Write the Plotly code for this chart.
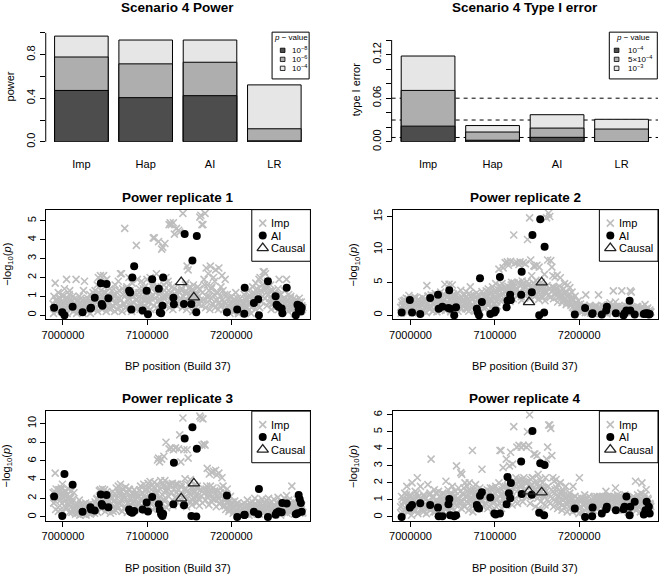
import plotly.graph_objects as go

# ---------------------------------------------------------------- data
methods = ["Imp", "Hap", "AI", "LR"]

# power (cumulative: proportion with p below each threshold)
power_p1e4 = [0.971, 0.935, 0.935, 0.523]
power_p1e6 = [0.779, 0.716, 0.731, 0.120]
power_p1e8 = [0.472, 0.406, 0.424, 0.009]

# type I error (cumulative)
t1e_p1e3 = [0.118, 0.0224, 0.0373, 0.031]
t1e_p5e4 = [0.0707, 0.0135, 0.0189, 0.0176]
t1e_p1e4 = [0.0216, 0.0022, 0.0062, 0.0]
t1e_reference = [0.006, 0.03, 0.06]

power_legend = ["10<sup>\u22128</sup>", "10<sup>\u22126</sup>", "10<sup>\u22124</sup>"]
t1e_legend = ["10<sup>\u22124</sup>", "5\u00d710<sup>\u22124</sup>", "10<sup>\u22123</sup>"]

# imputed SNP positions (kb, Build 37), batch A
imp_pos_kb = [
    6988.3, 6989.4, 6990.8, 6991.9, 6993.2, 6994.5, 6995.6, 6996.9, 6998.1, 6999.4, 7000.6, 7001.8, 7003.1, 7004.3, 7005.6, 7006.8, 7008.1, 7009.3, 7010.6, 7011.8,
    7013.1, 7014.3, 7015.6, 7016.9, 7018.1, 7019.4, 7020.6, 7021.9, 7023.1, 7024.4, 7025.6, 7026.9, 7028.2, 7029.4, 7030.7, 7031.9, 7033.2, 7034.4, 7035.7, 7036.9,
    7038.2, 7039.5, 7040.7, 7042.0, 7043.2, 7044.5, 7045.7, 7047.0, 7048.3, 7049.5, 7050.8, 7052.0, 7053.3, 7054.5, 7055.8, 7057.0, 7058.3, 7059.6, 7060.8, 7062.1,
    7063.3, 7064.6, 7065.8, 7067.1, 7068.3, 7069.6, 7070.9, 7072.1, 7073.4, 7074.6, 7075.9, 7077.1, 7078.4, 7079.7, 7080.9, 7082.2, 7083.4, 7084.7, 7085.9, 7087.2,
    7088.4, 7089.7, 7091.0, 7092.2, 7093.5, 7094.7, 7096.0, 7097.2, 7098.5, 7099.8, 7101.0, 7102.3, 7103.5, 7104.8, 7106.0, 7107.3, 7108.5, 7109.8, 7111.1, 7112.3,
    7113.6, 7114.8, 7116.1, 7117.3, 7118.6, 7119.9, 7121.1, 7122.4, 7123.6, 7124.9, 7126.1, 7127.4, 7128.6, 7129.9, 7131.2, 7132.4, 7133.7, 7134.9, 7136.2, 7137.4,
    7138.7, 7140.0, 7141.2, 7142.5, 7143.7, 7145.0, 7146.2, 7147.5, 7148.7, 7150.0, 7151.3, 7152.5, 7153.8, 7155.0, 7156.3, 7157.5, 7158.8, 7160.1, 7161.3, 7162.6,
    7163.8, 7165.1, 7166.3, 7167.6, 7168.8, 7170.1, 7171.4, 7172.6, 7173.9, 7175.1, 7176.4, 7177.6, 7178.9, 7180.2, 7181.4, 7182.7, 7183.9, 7185.2, 7186.4, 7187.7,
    7188.9, 7190.2, 7191.5, 7192.7, 7194.0, 7195.2, 7196.5, 7197.7, 7199.0, 7200.3, 7201.5, 7202.8, 7204.0, 7205.3, 7206.5, 7207.8, 7209.0, 7210.3, 7211.6, 7212.8,
    7214.1, 7215.3, 7216.6, 7217.8, 7219.1, 7220.4, 7221.6, 7222.9, 7224.1, 7225.4, 7226.6, 7227.9, 7229.1, 7230.4, 7231.7, 7232.9, 7234.2, 7235.4, 7236.7, 7237.9,
    7239.2, 7240.5, 7241.7, 7243.0, 7244.2, 7245.5, 7246.7, 7248.0, 7249.2, 7250.5, 7251.8, 7253.0, 7254.3, 7255.5, 7256.8, 7258.0, 7259.3, 7260.6, 7261.8, 7263.1,
    7264.3, 7265.6, 7266.8, 7268.1, 7269.3, 7270.6, 7271.9, 7273.1, 7274.4, 7275.6, 7276.9, 7278.1, 7279.4, 7280.7, 7281.9, 7283.2, 7284.4, 6997.5, 7007.4, 7047.6,
]
# imputed SNP positions (kb), batch B
imp_pos2_kb = [
    6988.9, 6990.1, 6991.3, 6992.7, 6993.9, 6995.0, 6996.3, 6997.8, 6998.8, 7000.0, 7001.2, 7002.4, 7003.7, 7005.0, 7006.2, 7007.5, 7008.7, 7010.0, 7011.2, 7012.5,
    7013.8, 7015.0, 7016.3, 7017.5, 7018.8, 7020.0, 7021.3, 7022.5, 7023.8, 7025.0, 7026.3, 7027.5, 7028.8, 7030.1, 7031.3, 7032.6, 7033.8, 7035.1, 7036.3, 7037.6,
    7038.8, 7040.1, 7041.3, 7042.6, 7043.9, 7045.1, 7046.4, 7047.7, 7048.9, 7050.2, 7051.4, 7052.7, 7053.9, 7055.2, 7056.4, 7057.7, 7059.0, 7060.2, 7061.5, 7062.7,
    7064.0, 7065.2, 7066.5, 7067.7, 7069.0, 7070.3, 7071.5, 7072.8, 7074.0, 7075.3, 7076.5, 7077.8, 7079.1, 7080.3, 7081.6, 7082.8, 7084.1, 7085.3, 7086.6, 7087.8,
    7089.1, 7090.4, 7091.6, 7092.9, 7094.1, 7095.4, 7096.6, 7097.9, 7099.2, 7100.4, 7101.7, 7102.9, 7104.2, 7105.4, 7106.7, 7107.9, 7109.2, 7110.5, 7111.7, 7113.0,
    7114.2, 7115.5, 7116.7, 7118.0, 7119.3, 7120.5, 7121.8, 7123.0, 7124.3, 7125.5, 7126.8, 7128.0, 7129.3, 7130.6, 7131.8, 7133.1, 7134.3, 7135.6, 7136.8, 7138.1,
    7139.4, 7140.6, 7141.9, 7143.1, 7144.4, 7145.6, 7146.9, 7148.1, 7149.4, 7150.7, 7151.9, 7153.2, 7154.4, 7155.7, 7156.9, 7158.2, 7159.5, 7160.7, 7162.0, 7163.2,
    7164.5, 7165.7, 7167.0, 7168.2, 7169.5, 7170.8, 7172.0, 7173.3, 7174.5, 7175.8, 7177.0, 7178.3, 7179.6, 7180.8, 7182.1, 7183.3, 7184.6, 7185.8, 7187.1, 7188.3,
    7189.6, 7190.9, 7192.1, 7193.4, 7194.6, 7195.9, 7197.1, 7198.4, 7199.7, 7200.9, 7202.2, 7203.4, 7204.7, 7205.9, 7207.2, 7208.4, 7209.7, 7211.0, 7212.2, 7213.5,
    7214.7, 7216.0, 7217.2, 7218.5, 7219.8, 7221.0, 7222.3, 7223.5, 7224.8, 7226.0, 7227.3, 7228.5, 7229.8, 7231.1, 7232.3, 7233.6, 7234.8, 7236.1, 7237.3, 7238.6,
    7239.9, 7241.1, 7242.4, 7243.6, 7244.9, 7246.1, 7247.4, 7248.6, 7249.9, 7251.2, 7252.4, 7253.7, 7254.9, 7256.2, 7257.4, 7258.7, 7260.0, 7261.2, 7262.5, 7263.7,
    7265.0, 7266.2, 7267.5, 7268.7, 7270.0, 7271.3, 7272.5, 7273.8, 7275.0, 7276.3, 7277.5, 7278.8, 7280.1, 7281.3, 7282.6, 7283.8, 7285.0, 7002.9, 7050.0, 7120.0,
]

# -log10(p) of imputed SNPs (batch A), one list per replicate
imp_rep1 = [
    0.6, 1.0, 1.7, 0.3, 0.8, 1.2, 0.5, 0.9, 0.2, 1.1, 0.7, 1.4, 0.4, 1.9, 0.9, 0.6, 1.3, 0.3, 0.8, 1.0,
    0.5, 0.9, 1.9, 0.7, 0.3, 1.0, 0.6, 0.2, 0.8, 1.3, 1.8, 0.4, 0.7, 0.9, 0.3, 1.1, 0.6, 0.5, 1.2, 0.8,
    1.3, 0.9, 1.6, 2.0, 1.2, 2.1, 1.7, 1.0, 2.1, 1.5, 0.8, 1.9, 1.1, 0.6, 1.4, 0.9, 1.3, 0.5, 1.0, 1.6,
    0.7, 1.2, 1.8, 0.9, 2.2, 2.2, 1.4, 0.6, 4.6, 1.1, 1.5, 0.8, 2.0, 1.3, 0.5, 1.7, 1.0, 1.2, 0.4, 3.7,
    1.9, 0.9, 1.4, 0.6, 1.8, 1.2, 0.8, 1.5, 1.0, 1.9, 0.7, 1.3, 2.0, 0.9, 1.6, 4.1, 4.1, 1.2, 2.2, 1.5,
    3.9, 1.4, 0.8, 3.5, 3.6, 1.6, 3.8, 2.0, 1.2, 1.8, 4.8, 4.9, 4.8, 1.5, 4.9, 4.3, 1.1, 4.6, 1.3, 4.5,
    4.4, 0.9, 1.4, 5.4, 0.7, 1.2, 1.7, 2.6, 2.4, 1.0, 0.5, 1.3, 0.8, 1.6, 0.4, 1.1, 0.9, 1.5, 0.6, 5.2,
    5.3, 4.8, 4.8, 1.9, 5.4, 2.5, 1.6, 2.2, 1.0, 2.6, 1.4, 0.6, 2.0, 1.8, 2.4, 0.8, 1.2, 2.5, 0.5, 1.5,
    2.1, 1.3, 0.7, 1.9, 0.4, 1.1, 0.9, 0.3, 0.6, 1.0, 0.2, 0.8, 0.5, 1.2, 0.3, 0.7, 0.1, 0.9, 0.4, 0.6,
    0.3, 1.1, 0.6, 0.9, 0.2, 1.3, 0.7, 1.0, 0.4, 1.5, 1.2, 0.8, 1.7, 1.4, 1.0, 1.9, 2.0, 1.3, 1.6, 2.3,
    2.3, 2.2, 1.5, 1.8, 1.1, 0.9, 1.6, 0.6, 1.3, 0.8, 1.2, 0.5, 1.0, 1.4, 1.9, 0.7, 1.1, 0.4, 0.9, 1.3,
    0.6, 1.9, 0.8, 1.1, 0.4, 1.0, 0.7, 0.3, 0.9, 0.5, 0.8, 0.2, 0.6, 0.9, 0.4, 0.7, 0.3, 0.5, 0.8, 1.2,
]
imp_rep2 = [
    1.2, 2.0, 0.5, 1.6, 2.3, 0.8, 1.9, 2.5, 3.0, 1.4, 0.6, 2.2, 1.0, 1.7, 2.6, 0.4, 1.8, 2.4, 1.1, 2.0,
    1.5, 2.7, 0.7, 2.2, 1.3, 4.5, 2.9, 1.0, 2.4, 3.1, 1.8, 0.6, 2.6, 3.3, 1.4, 2.8, 2.1, 0.9, 3.5, 2.5,
    2.0, 3.2, 4.7, 1.5, 2.7, 3.0, 4.7, 1.2, 2.4, 4.6, 3.2, 0.8, 2.9, 2.1, 3.4, 1.6, 2.6, 3.8, 1.0, 2.3,
    3.0, 1.8, 3.6, 2.4, 1.1, 3.3, 4.3, 2.7, 1.5, 3.1, 2.0, 0.7, 3.4, 2.5, 1.3, 2.9, 1.9, 3.6, 2.2, 1.0,
    2.8, 3.7, 1.6, 4.0, 2.3, 3.2, 1.2, 4.3, 2.7, 3.5, 4.8, 2.0, 3.9, 7.0, 4.5, 3.0, 4.8, 7.2, 2.5, 8.0,
    4.2, 8.1, 7.6, 3.5, 8.2, 5.0, 4.6, 12.2, 7.9, 3.8, 8.0, 4.9, 7.7, 8.1, 2.8, 5.2, 8.0, 4.3, 7.8, 3.6,
    11.5, 4.7, 14.8, 8.4, 6.0, 3.9, 7.5, 7.4, 5.3, 7.6, 4.1, 7.3, 3.2, 5.0, 2.6, 4.4, 6.2, 3.7, 14.8, 8.4,
    15.5, 15.0, 8.3, 7.3, 6.0, 4.2, 5.8, 3.5, 6.1, 2.8, 4.4, 5.7, 3.1, 2.2, 4.0, 4.8, 3.3, 1.8, 4.6, 2.6,
    4.2, 1.5, 3.5, 2.4, 1.0, 2.9, 1.8, 0.7, 2.2, 1.3, 1.7, 0.5, 1.1, 1.4, 0.8, 3.1, 1.2, 0.4, 0.9, 1.5,
    0.6, 1.2, 0.3, 1.0, 0.8, 1.4, 0.5, 3.1, 1.1, 0.7, 1.5, 0.4, 1.2, 0.9, 1.3, 0.2, 1.0, 1.6, 1.9, 0.6,
    1.1, 3.7, 0.8, 2.0, 1.3, 0.5, 1.4, 1.0, 0.6, 3.7, 1.2, 0.9, 1.5, 0.4, 1.1, 0.7, 1.3, 3.7, 3.5, 0.8,
    1.2, 0.5, 1.0, 0.3, 1.3, 0.8, 0.6, 1.1, 0.4, 0.9, 0.2, 1.6, 0.7, 1.0, 0.3, 0.6, 0.4, 2.4, 1.9, 1.7,
]
imp_rep3 = [
    2.6, 1.5, 4.7, 3.0, 2.2, 0.6, 2.9, 1.8, 3.1, 3.5, 2.4, 1.2, 2.8, 0.9, 2.0, 3.0, 1.6, 2.7, 0.5, 1.9,
    2.6, 1.2, 0.7, 1.4, 0.4, 1.8, 1.0, 0.6, 1.3, 0.3, 0.9, 1.5, 0.5, 1.1, 0.8, 1.4, 0.4, 1.2, 0.7, 1.0,
    1.6, 0.9, 2.0, 1.3, 2.8, 2.9, 1.5, 3.0, 2.2, 2.9, 1.1, 2.7, 1.8, 0.8, 2.4, 1.4, 2.0, 0.6, 1.7, 2.5,
    3.1, 1.2, 3.3, 2.6, 3.5, 1.8, 3.0, 2.2, 0.9, 3.2, 2.7, 1.5, 3.0, 2.0, 0.7, 2.5, 1.4, 2.9, 1.9, 1.1,
    2.4, 1.6, 2.9, 3.3, 1.2, 2.6, 3.5, 2.0, 3.0, 1.4, 3.6, 2.3, 3.8, 1.8, 3.4, 2.7, 3.7, 1.0, 2.5, 6.1,
    6.3, 5.9, 3.9, 6.2, 3.6, 6.5, 3.9, 8.0, 2.8, 3.5, 7.3, 3.5, 7.4, 3.6, 7.2, 3.4, 7.4, 2.6, 3.5, 7.3,
    8.8, 5.9, 3.5, 10.6, 7.2, 4.1, 3.0, 7.2, 6.3, 2.5, 4.0, 3.2, 1.8, 2.7, 3.4, 2.2, 1.5, 3.0, 2.0, 10.8,
    10.6, 7.7, 10.5, 7.8, 7.7, 3.0, 5.2, 2.4, 4.6, 3.3, 4.8, 1.9, 4.9, 2.8, 5.0, 4.5, 2.2, 4.7, 1.5, 3.1,
    4.2, 3.3, 2.6, 1.2, 2.0, 3.0, 1.6, 0.8, 2.2, 1.4, 1.0, 0.5, 1.7, 1.2, 0.7, 1.5, 0.3, 1.1, 0.6, 1.3,
    0.8, 1.5, 0.4, 1.2, 1.8, 0.6, 1.0, 1.4, 0.3, 1.6, 0.9, 2.0, 1.2, 0.5, 1.7, 1.0, 1.4, 0.7, 1.9, 1.1,
    1.5, 0.6, 1.8, 1.0, 2.0, 1.3, 0.4, 1.6, 0.9, 1.9, 1.2, 0.7, 1.5, 2.1, 1.0, 0.5, 1.7, 1.3, 0.8, 2.0,
    1.4, 2.3, 0.7, 1.8, 1.1, 1.5, 3.3, 0.9, 1.6, 1.2, 0.5, 1.9, 1.0, 0.6, 1.3, 0.8, 0.4, 2.9, 2.1, 2.6,
]
imp_rep4 = [
    0.6, 1.2, 0.3, 0.9, 1.4, 0.5, 1.8, 1.0, 0.4, 1.3, 0.7, 2.0, 1.1, 0.5, 1.5, 0.8, 2.3, 1.2, 0.6, 1.8,
    1.0, 0.4, 1.3, 0.7, 1.1, 0.5, 1.9, 0.9, 1.4, 3.4, 0.6, 1.2, 1.6, 0.3, 1.0, 0.8, 1.5, 0.5, 1.2, 0.9,
    1.4, 0.7, 1.1, 2.1, 0.5, 1.6, 1.0, 1.3, 0.6, 1.8, 1.2, 0.8, 1.5, 3.0, 1.1, 1.7, 0.9, 2.6, 2.5, 1.4,
    1.7, 2.0, 1.2, 1.8, 0.8, 2.0, 1.5, 1.1, 3.9, 1.6, 0.7, 1.9, 1.3, 0.9, 1.4, 1.7, 1.0, 2.8, 0.6, 1.5,
    1.2, 0.8, 1.6, 1.3, 0.6, 1.7, 1.1, 1.7, 0.9, 1.4, 1.8, 1.0, 1.5, 2.0, 3.9, 3.9, 1.6, 2.9, 1.2, 1.8,
    3.4, 2.2, 1.5, 3.0, 3.8, 2.0, 3.1, 5.3, 1.8, 2.3, 4.1, 2.1, 4.2, 1.9, 4.1, 2.2, 4.2, 1.6, 2.0, 4.1,
    5.0, 4.2, 6.0, 2.2, 1.9, 2.3, 3.7, 3.7, 2.1, 3.6, 2.5, 1.8, 2.2, 1.5, 2.0, 1.3, 1.7, 2.3, 3.4, 4.1,
    5.4, 5.4, 5.2, 3.6, 2.3, 2.1, 1.6, 2.2, 1.2, 1.9, 0.9, 2.0, 1.4, 0.7, 1.5, 1.1, 1.8, 0.8, 1.3, 1.0,
    1.4, 0.7, 1.1, 1.8, 0.5, 1.2, 0.9, 0.4, 1.0, 2.3, 0.6, 1.1, 0.3, 0.8, 1.3, 1.0, 0.5, 0.9, 1.2, 0.4,
    0.7, 1.0, 0.4, 1.2, 0.8, 0.5, 1.1, 0.9, 1.2, 0.6, 1.1, 1.0, 1.2, 0.7, 1.5, 1.1, 0.9, 1.2, 0.5, 1.0,
    1.1, 0.6, 1.2, 1.7, 0.9, 1.3, 0.5, 1.0, 0.8, 1.2, 0.4, 1.0, 1.3, 0.7, 0.9, 0.3, 1.1, 0.6, 1.0, 0.8,
    1.2, 0.5, 2.1, 0.9, 1.3, 0.6, 1.0, 1.4, 2.0, 0.7, 1.1, 1.3, 1.6, 0.8, 1.0, 0.4, 0.7, 0.9, 1.1, 0.6,
]

# -log10(p) of imputed SNPs (batch B), one list per replicate
imp2_rep1 = [
    0.1, 0.5, 0.8, 0.2, 0.6, 0.9, 0.3, 0.7, 0.4, 1.0, 0.2, 0.6, 0.8, 0.1, 0.5, 1.1, 0.3, 0.7, 0.4, 0.2,
    0.3, 0.6, 0.1, 0.8, 0.5, 0.2, 0.9, 0.4, 0.1, 0.6, 0.3, 0.8, 0.2, 0.5, 0.7, 0.1, 0.4, 0.9, 0.3, 0.6,
    0.4, 1.1, 0.2, 0.8, 0.5, 1.3, 0.3, 0.9, 0.6, 1.2, 0.2, 0.7, 0.4, 1.0, 0.3, 0.8, 0.5, 1.1, 0.2, 0.6,
    0.9, 0.3, 1.3, 0.5, 0.8, 0.2, 1.1, 0.6, 0.4, 1.4, 0.3, 0.9, 0.5, 1.2, 0.2, 0.7, 1.0, 0.4, 0.8, 0.3,
    0.5, 1.2, 0.3, 0.9, 0.6, 1.4, 0.2, 0.8, 1.1, 0.4, 1.3, 0.7, 0.3, 1.0, 1.5, 0.5, 0.9, 1.2, 0.4, 0.8,
    1.1, 0.6, 1.5, 0.3, 0.9, 1.3, 0.5, 1.0, 0.7, 1.6, 0.4, 1.2, 0.8, 0.3, 1.4, 0.6, 1.0, 0.5, 1.3, 0.8,
    0.6, 1.3, 0.4, 1.0, 0.8, 1.6, 0.3, 1.2, 0.7, 1.5, 0.5, 1.0, 0.2, 1.3, 0.9, 0.4, 1.1, 0.6, 1.4, 0.8,
    0.5, 1.2, 0.8, 1.6, 0.4, 1.0, 0.7, 1.3, 0.3, 0.9, 1.5, 0.6, 1.1, 0.4, 0.8, 1.2, 0.3, 0.7, 1.0, 0.5,
    0.8, 0.3, 1.1, 0.6, 0.2, 0.9, 0.5, 0.1, 0.7, 0.4, 0.8, 0.2, 0.6, 0.3, 0.9, 0.1, 0.5, 0.7, 0.2, 0.4,
    0.6, 0.2, 0.8, 0.4, 1.0, 0.3, 0.7, 0.1, 0.9, 0.5, 1.1, 0.3, 0.8, 0.6, 1.2, 0.4, 1.3, 0.7, 1.0, 1.4,
    0.9, 1.4, 0.5, 1.1, 0.7, 1.3, 0.3, 0.9, 0.6, 1.2, 0.4, 0.8, 1.0, 0.3, 0.7, 1.1, 0.5, 0.2, 0.8, 0.6,
    0.4, 0.8, 0.2, 0.6, 0.9, 0.3, 0.7, 0.5, 0.1, 0.8, 0.4, 0.6, 0.3, 0.7, 0.2, 0.5, 0.4, 0.3, 0.7, 1.0,
]
imp2_rep2 = [
    0.3, 1.5, 2.2, 0.8, 1.8, 2.6, 0.5, 1.3, 2.0, 1.0, 2.4, 0.4, 1.6, 2.8, 0.9, 1.9, 0.6, 2.3, 1.2, 1.7,
    0.7, 2.0, 1.1, 2.5, 0.4, 1.6, 2.9, 0.9, 1.4, 2.2, 0.6, 1.8, 2.7, 1.2, 0.5, 2.1, 1.5, 2.6, 0.8, 1.9,
    1.3, 2.5, 0.7, 1.9, 2.8, 1.1, 2.3, 0.5, 1.6, 2.9, 1.0, 2.2, 1.4, 2.6, 0.6, 1.8, 2.4, 0.9, 2.0, 1.5,
    2.3, 1.0, 2.8, 1.6, 0.6, 2.1, 3.0, 1.3, 2.5, 0.8, 1.9, 2.7, 1.1, 3.1, 1.7, 0.5, 2.4, 1.4, 2.9, 2.0,
    1.2, 3.0, 2.1, 1.6, 3.4, 2.5, 1.0, 3.1, 1.8, 2.7, 3.6, 1.4, 2.9, 3.8, 2.2, 4.0, 3.3, 2.6, 4.2, 3.5,
    2.7, 4.4, 3.2, 2.1, 4.6, 3.8, 2.5, 4.9, 3.4, 4.1, 2.9, 5.0, 3.6, 4.5, 2.3, 4.8, 3.9, 3.0, 4.3, 5.1,
    3.3, 4.7, 2.6, 4.0, 3.5, 4.9, 2.8, 4.2, 3.1, 4.6, 2.4, 3.8, 4.4, 2.9, 3.6, 4.1, 2.2, 3.4, 4.5, 3.0,
    4.0, 2.7, 3.6, 4.3, 2.5, 3.9, 3.2, 4.1, 2.0, 3.4, 2.8, 3.7, 1.9, 3.0, 2.4, 3.5, 1.6, 2.9, 2.2, 3.2,
    1.8, 2.6, 1.2, 2.3, 0.9, 1.9, 1.4, 0.7, 1.6, 1.1, 0.5, 1.3, 0.8, 1.5, 0.4, 1.0, 1.2, 0.6, 0.9, 0.3,
    1.1, 0.5, 0.8, 1.3, 0.3, 0.9, 0.6, 1.2, 0.2, 1.0, 0.7, 1.4, 0.4, 0.8, 1.1, 0.5, 1.3, 0.6, 0.9, 1.2,
    0.5, 1.0, 0.7, 1.3, 0.3, 0.9, 0.6, 1.1, 0.2, 0.8, 1.2, 0.4, 0.9, 0.6, 1.3, 0.3, 0.7, 1.0, 0.5, 1.1,
    0.8, 0.4, 1.2, 0.6, 0.9, 0.2, 1.0, 0.5, 1.3, 0.7, 0.3, 0.9, 0.6, 1.1, 0.4, 0.8, 0.5, 2.5, 2.8, 4.2,
]
imp2_rep3 = [
    1.5, 2.7, 0.8, 2.3, 1.9, 2.9, 1.2, 2.5, 0.6, 2.1, 1.7, 2.8, 1.0, 2.4, 1.4, 0.5, 2.0, 1.1, 1.6, 0.7,
    0.9, 0.3, 1.2, 0.6, 1.0, 0.2, 1.4, 0.8, 0.4, 1.1, 0.7, 0.2, 1.3, 0.5, 0.9, 0.3, 1.0, 0.6, 1.2, 0.4,
    0.8, 1.9, 0.5, 1.4, 2.3, 0.9, 2.6, 1.2, 2.0, 0.6, 1.7, 2.4, 1.0, 2.1, 0.4, 1.5, 2.7, 1.1, 1.8, 0.7,
    2.0, 0.9, 2.5, 1.4, 2.8, 0.6, 1.9, 2.3, 1.1, 2.6, 0.5, 1.6, 2.9, 1.2, 2.2, 0.8, 1.7, 2.4, 1.0, 2.1,
    1.3, 2.2, 0.7, 1.9, 2.6, 1.0, 2.3, 1.6, 2.9, 0.9, 2.0, 3.1, 1.4, 2.5, 0.8, 3.2, 1.8, 2.7, 1.1, 3.4,
    2.0, 3.0, 1.3, 2.4, 3.3, 1.7, 2.8, 1.0, 3.1, 2.2, 1.5, 3.4, 2.6, 1.2, 3.0, 2.1, 3.5, 1.6, 2.9, 2.4,
    1.9, 3.2, 2.5, 1.4, 3.0, 2.2, 1.1, 2.8, 3.4, 1.7, 2.4, 1.3, 3.1, 2.0, 2.7, 1.6, 3.3, 2.3, 1.2, 2.9,
    2.2, 1.5, 3.0, 2.6, 1.8, 3.3, 2.1, 1.3, 2.9, 2.4, 1.6, 3.1, 1.9, 2.5, 1.1, 2.8, 2.0, 1.4, 2.6, 1.7,
    2.3, 1.2, 1.8, 0.8, 1.5, 2.0, 0.6, 1.3, 0.9, 1.6, 0.4, 1.1, 0.7, 1.4, 0.3, 1.0, 0.6, 1.2, 0.2, 0.9,
    0.5, 1.1, 0.3, 0.8, 1.3, 0.2, 0.9, 0.6, 1.2, 0.4, 1.0, 1.4, 0.5, 0.8, 1.1, 0.3, 1.5, 0.7, 1.2, 0.9,
    0.6, 1.3, 0.9, 0.3, 1.1, 1.5, 0.7, 1.0, 0.4, 1.2, 0.8, 1.6, 0.5, 0.9, 1.3, 0.2, 1.0, 0.6, 1.4, 0.8,
    1.1, 0.4, 0.8, 1.3, 0.5, 1.0, 0.7, 1.2, 0.3, 0.9, 1.4, 0.6, 1.0, 0.4, 0.8, 1.2, 0.5, 2.2, 1.3, 1.9,
]
imp2_rep4 = [
    0.2, 0.7, 1.1, 0.4, 0.9, 1.3, 0.3, 0.8, 0.5, 1.2, 0.1, 0.6, 1.0, 0.4, 0.8, 1.4, 0.2, 0.7, 1.1, 0.5,
    0.8, 0.3, 1.2, 0.6, 0.2, 0.9, 0.5, 1.3, 0.4, 0.7, 1.1, 0.3, 0.8, 1.4, 0.5, 0.2, 0.9, 1.2, 0.6, 0.4,
    0.9, 0.5, 1.3, 0.7, 1.1, 0.3, 0.8, 1.4, 0.6, 1.0, 0.4, 1.2, 0.7, 0.2, 1.1, 0.8, 1.5, 0.5, 0.9, 1.3,
    0.6, 1.2, 0.9, 1.5, 0.4, 1.1, 0.7, 1.4, 0.3, 1.0, 1.3, 0.6, 1.6, 0.8, 0.5, 1.2, 0.9, 1.4, 0.6, 1.1,
    0.8, 1.3, 0.5, 1.0, 1.5, 0.7, 1.2, 0.4, 0.9, 1.4, 0.6, 1.1, 1.6, 0.8, 1.3, 0.5, 1.8, 1.0, 1.4, 0.7,
    1.2, 1.8, 0.9, 2.0, 1.4, 0.7, 1.7, 2.1, 1.1, 1.9, 0.8, 1.6, 2.2, 1.3, 1.9, 0.9, 2.3, 1.5, 1.2, 2.0,
    1.4, 2.1, 0.8, 1.8, 2.3, 1.2, 1.6, 0.6, 1.9, 1.1, 0.5, 1.4, 0.9, 1.7, 0.4, 1.2, 0.7, 1.5, 1.0, 1.8,
    1.3, 0.8, 1.6, 1.1, 0.6, 1.4, 0.9, 1.7, 0.5, 1.2, 0.8, 1.5, 0.4, 1.0, 1.3, 0.6, 1.1, 0.3, 0.9, 1.2,
    0.5, 1.0, 0.3, 0.8, 1.2, 0.4, 0.7, 1.1, 0.2, 0.9, 0.6, 1.0, 0.3, 0.7, 1.1, 0.5, 0.8, 0.2, 0.6, 0.9,
    0.4, 0.8, 1.1, 0.6, 0.9, 1.2, 0.5, 1.0, 0.7, 1.1, 1.2, 0.8, 1.0, 1.1, 0.6, 1.2, 0.9, 1.1, 0.7, 1.2,
    1.0, 1.2, 0.7, 1.1, 0.5, 0.9, 1.2, 0.6, 1.0, 0.8, 1.1, 0.4, 0.9, 1.2, 0.6, 1.0, 0.3, 0.8, 1.1, 0.5,
    0.7, 1.1, 0.4, 0.9, 0.6, 1.2, 0.3, 0.8, 1.0, 0.5, 0.9, 0.2, 0.7, 1.1, 0.4, 0.8, 0.6, 0.4, 0.9, 1.5,
]

# genotyped (AI) SNP positions (kb) and -log10(p) per replicate
ai_pos_kb = [
    6989.5, 6999.2, 7001.8, 7011.5, 7023.3, 7032.6, 7033.4, 7037.8, 7045.0, 7046.0, 7047.0, 7051.8, 7054.0,
    7078.6, 7079.8, 7081.2, 7082.4, 7084.6, 7094.6, 7099.4, 7101.0, 7106.0, 7113.9, 7115.0, 7116.6, 7118.2,
    7119.0, 7131.2, 7131.8, 7143.8, 7144.6, 7152.6, 7153.8, 7158.4, 7159.0, 7194.8, 7207.0, 7215.4, 7215.9,
    7226.8, 7232.0, 7232.8, 7243.5, 7252.6, 7253.8, 7256.0, 7259.8, 7260.6, 7265.8, 7276.6, 7278.6, 7280.0,
    7281.2, 7282.6, 7283.6,
]
ai_rep1 = [0.4, 0.15, 0.0, 0.45, 0.15, 0.35, 0.4, 0.92, 1.7, 0.6, 0.5, 1.65, 0.9, 1.3, 1.2, 0.3, 2.0, 2.6,
           0.25, 1.3, 0.05, 1.9, 1.4, 0.15, 0.1, 0.5, 2.0, 0.92, 0.58, 0.6, 4.3, 0.6, 2.9, 0.15, 4.2, 0.15,
           0.3, 0.08, 1.45, 0.65, 0.85, 0.0, 1.8, 1.0, 0.55, 0.45, 0.35, 0.1, 1.45, 0.0, 0.55, 0.3, 0.5, 0.2, 0.4]
ai_rep2 = [0.4, 2.3, 0.4, 0.2, 2.6, 3.1, 1.0, 1.3, 1.1, 3.8, 1.0, 0.0, 1.2, 1.0, 0.4, 0.0, 5.6, 2.0, 0.2,
           0.4, 0.7, 5.8, 1.2, 2.2, 2.3, 3.1, 2.3, 3.1, 6.6, 3.5, 12.2, 0.0, 14.6, 0.4, 10.4, 0.1, 1.1, 0.2,
           0.3, 0.1, 0.7, 1.3, 0.3, 0.0, 0.3, 0.7, 2.2, 0.7, 0.1, 0.2, 0.3, 0.2, 0.3, 0.1, 0.2]
ai_rep3 = [2.2, 0.1, 4.6, 3.45, 0.55, 1.05, 0.8, 0.7, 2.4, 1.4, 1.2, 2.35, 1.05, 0.8, 0.6, 0.5, 0.45, 0.65,
           0.8, 1.55, 0.6, 2.15, 1.35, 0.75, 0.3, 0.1, 0.35, 1.35, 5.8, 1.25, 8.4, 0.1, 9.6, 0.05, 7.3, 2.3,
           0.0, 0.2, 0.25, 0.55, 0.3, 3.0, 0.0, 0.25, 0.45, 0.6, 0.5, 1.5, 1.45, 0.3, 0.4, 2.35, 1.9, 1.5, 0.55]
ai_rep4 = [0.0, 0.55, 0.7, 0.8, 0.7, 0.55, 0.05, 0.05, 0.75, 1.05, 0.1, 0.05, 0.1, 0.7, 0.55, 0.5, 1.25,
           1.45, 1.15, 0.2, 0.15, 0.2, 0.75, 2.35, 1.4, 1.1, 2.0, 3.25, 1.35, 1.3, 5.05, 0.25, 3.15, 0.1,
           3.05, 0.5, 0.0, 0.05, 0.55, 0.2, 0.45, 0.6, 0.4, 0.45, 0.6, 1.2, 0.1, 0.6, 0.9, 0.15, 0.4, 0.9,
           0.25, 0.6, 0.2]

# causal variants (kb) and -log10(p) per replicate
causal_pos_kb = [7140.5, 7155.5]
causal_rep1 = [1.75, 0.95]
causal_rep2 = [2.0, 5.0]
causal_rep3 = [2.0, 3.6]
causal_rep4 = [1.5, 1.45]

bp_ticks = [7000000, 7100000, 7200000]
bp_tick_labels = ["7000000", "7100000", "7200000"]

# ---------------------------------------------------------------- style / layout
W, H = 659, 582
FONT = "Liberation Sans, Arial, Helvetica, sans-serif"
LIGHT, MID, DARK = "#E6E6E6", "#AEAEAE", "#4D4D4D"
IMP_COL = "#BEBEBE"


def px(x):
    return x / W


def py(y):
    return 1 - y / H


def span(p0, p1, pa, va, pb, vb):
    s = (vb - va) / (pb - pa)
    return [va + (p0 - pa) * s, va + (p1 - pa) * s]


fig = go.Figure()

for vals, col in ((power_p1e4, LIGHT), (power_p1e6, MID), (power_p1e8, DARK)):
    fig.add_bar(x=methods, y=vals, width=0.833, xaxis="x", yaxis="y", showlegend=False,
                marker=dict(color=col, line=dict(color="black", width=1)), hoverinfo="skip")
for vals, col in ((t1e_p1e3, LIGHT), (t1e_p5e4, MID), (t1e_p1e4, DARK)):
    fig.add_bar(x=methods, y=vals, width=0.833, xaxis="x2", yaxis="y2", showlegend=False,
                marker=dict(color=col, line=dict(color="black", width=1)), hoverinfo="skip")

tick_font = dict(family=FONT, size=11, color="black")
layout = dict(
    width=W, height=H, margin=dict(l=0, r=0, t=0, b=0),
    paper_bgcolor="white", plot_bgcolor="rgba(0,0,0,0)",
    barmode="overlay", showlegend=False, font=dict(family=FONT, color="black"),
)
layout["xaxis"] = dict(domain=[px(42), px(307.7)], anchor="y", type="category",
                       range=[-0.554, 3.552], showline=False, showgrid=False, zeroline=False,
                       ticks="outside", ticklen=12, tickcolor="rgba(0,0,0,0)", tickfont=tick_font)
layout["yaxis"] = dict(domain=[py(143.3), py(28)], anchor="x", range=[0, (143.3 - 28) / 110.8],
                       tickvals=[0, 0.4, 0.8], ticktext=["0.0", "0.4", "0.8"],
                       minor=dict(tickvals=[0.2, 0.6, 1.0], ticks="outside", ticklen=5, tickcolor="black"),
                       ticks="outside", ticklen=5, tickcolor="black", tickangle=-90,
                       showline=False, showgrid=False, zeroline=False, tickfont=tick_font)
layout["xaxis2"] = dict(domain=[px(390), px(658)], anchor="y2", type="category",
                        range=[-0.565, 3.565], showline=False, showgrid=False, zeroline=False,
                        ticks="outside", ticklen=12, tickcolor="rgba(0,0,0,0)", tickfont=tick_font)
layout["yaxis2"] = dict(domain=[py(143.3), py(36)], anchor="x2", range=[0, (143.3 - 36) / 740],
                        tickvals=[0, 0.06, 0.12], ticktext=["0.00", "0.06", "0.12"],
                        minor=dict(tickvals=[0.02, 0.04, 0.08, 0.10, 0.14], ticks="outside", ticklen=5,
                                   tickcolor="black"),
                        ticks="outside", ticklen=5, tickcolor="black", tickangle=-90,
                        showline=False, showgrid=False, zeroline=False, tickfont=tick_font)

shapes = [
    dict(type="line", xref="x domain", yref="y", x0=0, x1=0, y0=0, y1=1.0,
         line=dict(color="black", width=1)),
    dict(type="line", xref="x2 domain", yref="y2", x0=0, x1=0, y0=0, y1=0.14,
         line=dict(color="black", width=1)),
]
for ref in t1e_reference:
    shapes.append(dict(type="line", xref="x2 domain", yref="y2", x0=0, x1=1, y0=ref, y1=ref,
                       layer="below", line=dict(color="black", width=1, dash="4px,4px")))

annotations = []


def ann(text, x, y, size=11, xanchor="center", angle=0):
    annotations.append(dict(text=text, x=px(x), y=py(y), xref="paper", yref="paper",
                            xanchor=xanchor, yanchor="middle", showarrow=False, textangle=angle,
                            font=dict(family=FONT, size=size, color="black")))


ann("<b>Scenario 4 Power</b>", 175, 7, size=13.5)
ann("<b>Scenario 4 Type I error</b>", 524, 7, size=13.5)
ann("power", 6, 87, angle=-90)
ann("type I error", 355, 90, angle=-90)

# bar legends
bar_legends = [
    dict(box=(269.7, 31.7, 307, 79.3), title_x=288.5, sq_x=(278, 282.7), text_x=287.5, labels=power_legend),
    dict(box=(609, 31.7, 657.3, 79.3), title_x=633.3, sq_x=(614, 618.7), text_x=625.5, labels=t1e_legend),
]
rows = [50.2, 59.4, 68.5]
for lg in bar_legends:
    x0, y0, x1, y1 = lg["box"]
    shapes.append(dict(type="rect", xref="paper", yref="paper", x0=px(x0), x1=px(x1), y0=py(y0), y1=py(y1),
                       line=dict(color="black", width=1), fillcolor="white", layer="above"))
    ann("<i>p</i> \u2212 value", lg["title_x"], 37, size=8)
    for ry, col, lab in zip(rows, (DARK, MID, LIGHT), lg["labels"]):
        shapes.append(dict(type="rect", xref="paper", yref="paper", x0=px(lg["sq_x"][0]), x1=px(lg["sq_x"][1]),
                           y0=py(ry + 2.2), y1=py(ry - 2.2), fillcolor=col,
                           line=dict(color="black", width=0.8)))
        ann(lab, lg["text_x"], ry, size=8, xanchor="left")

# scatter panels
panels = [
    dict(title="Power replicate 1", imp=imp_rep1, imp2=imp2_rep1, ai=ai_rep1, causal=causal_rep1,
         yt=[0, 1, 2, 3, 4, 5], box=(42.3, 212.3, 308.3, 324.0), xa=(59.3, 228.7), ya=(319.7, 0, 223.7, 5)),
    dict(title="Power replicate 2", imp=imp_rep2, imp2=imp2_rep2, ai=ai_rep2, causal=causal_rep2,
         yt=[0, 5, 10, 15], box=(391, 212.3, 658, 324.0), xa=(409, 578.7), ya=(319.7, 0, 219.3, 15)),
    dict(title="Power replicate 3", imp=imp_rep3, imp2=imp2_rep3, ai=ai_rep3, causal=causal_rep3,
         yt=[0, 2, 4, 6, 8, 10], box=(42.3, 417.3, 308.3, 529.3), xa=(59.3, 228.7), ya=(525, 0, 430, 10)),
    dict(title="Power replicate 4", imp=imp_rep4, imp2=imp2_rep4, ai=ai_rep4, causal=causal_rep4,
         yt=[0, 1, 2, 3, 4, 5, 6], box=(391, 417.3, 658, 529.3), xa=(409, 578.7), ya=(525, 0, 421, 6)),
]

imp_bp = [p * 1000 for p in imp_pos_kb]
imp2_bp = [p * 1000 for p in imp_pos2_kb]
ai_bp = [p * 1000 for p in ai_pos_kb]
causal_bp = [p * 1000 for p in causal_pos_kb]

imp_marker = dict(symbol="x-thin-open", size=7, color=IMP_COL, line=dict(width=1.6, color=IMP_COL))
ai_marker = dict(symbol="circle", size=8, color="black", line=dict(width=0))
causal_marker = dict(symbol="triangle-up-open", size=10, color="#222222", line=dict(width=1.3, color="#222222"))

legend_boxes = []
for i, pn in enumerate(panels):
    k = i + 3
    xs, ys = f"x{k}", f"y{k}"
    bx0, by0, bx1, by1 = pn["box"]
    n1 = min(len(imp2_bp), len(pn["imp2"]))
    n = min(len(imp_bp), len(pn["imp"]))
    fig.add_scatter(x=imp2_bp[:n1] + imp_bp[:n], y=pn["imp2"][:n1] + pn["imp"][:n], mode="markers",
                    xaxis=xs, yaxis=ys, showlegend=False, marker=imp_marker, hoverinfo="skip")
    m = min(len(ai_bp), len(pn["ai"]))
    fig.add_scatter(x=ai_bp[:m], y=pn["ai"][:m], mode="markers", xaxis=xs, yaxis=ys, showlegend=False,
                    marker=ai_marker, hoverinfo="skip")
    fig.add_scatter(x=causal_bp, y=pn["causal"], mode="markers", xaxis=xs, yaxis=ys, showlegend=False,
                    marker=causal_marker, hoverinfo="skip")
    xr = span(bx0, bx1, pn["xa"][0], bp_ticks[0], pn["xa"][1], bp_ticks[2])
    yr = span(by1, by0, pn["ya"][0], pn["ya"][1], pn["ya"][2], pn["ya"][3])
    layout[f"xaxis{k}"] = dict(domain=[px(bx0), px(bx1)], anchor=ys, range=xr, tickvals=bp_ticks,
                               ticktext=bp_tick_labels, ticks="outside", ticklen=5, tickcolor="black",
                               showline=True, mirror=True, linecolor="black", linewidth=1,
                               showgrid=False, zeroline=False, tickfont=tick_font)
    layout[f"yaxis{k}"] = dict(domain=[py(by1), py(by0)], anchor=xs, range=yr, tickvals=pn["yt"],
                               ticktext=[str(v) for v in pn["yt"]], ticks="outside", ticklen=5,
                               tickcolor="black", tickangle=-90,
                               showline=True, mirror=True, linecolor="black", linewidth=1,
                               showgrid=False, zeroline=False, tickfont=tick_font)
    cx = (bx0 + bx1) / 2
    ann(f"<b>{pn['title']}</b>", cx, by0 - 12.5, size=13.5)
    ann("BP position (Build 37)", cx, by1 + 47.5)
    ann("\u2212log<sub>10</sub>(<i>p</i>)", bx0 - 39, (by0 + by1) / 2, angle=-90)
    lx0 = bx1 - 59
    legend_boxes.append((lx0, by0, bx1, by0 + 52.5))
    for j, lab in enumerate(["Imp", "AI", "Causal"]):
        ann(lab, lx0 + 17.5, by0 + 13.7 + j * 12.7, xanchor="left")

# legend boxes and keys on an invisible full-figure pixel axis (drawn above the panels)
layout["xaxis7"] = dict(domain=[0, 1], range=[0, W], visible=False, anchor="y7")
layout["yaxis7"] = dict(domain=[0, 1], range=[H, 0], visible=False, anchor="x7")
for (lx0, ly0, lx1, ly1) in legend_boxes:
    fig.add_scatter(x=[lx0, lx1, lx1, lx0, lx0], y=[ly0, ly0, ly1, ly1, ly0], mode="lines",
                    fill="toself", fillcolor="white", line=dict(color="black", width=1),
                    xaxis="x7", yaxis="y7", showlegend=False, hoverinfo="skip", cliponaxis=False)
for j, st in enumerate((imp_marker, ai_marker, causal_marker)):
    fig.add_scatter(x=[b[0] + 11 for b in legend_boxes], y=[b[1] + 13.7 + j * 12.7 for b in legend_boxes],
                    mode="markers", xaxis="x7", yaxis="y7", marker=st, showlegend=False,
                    hoverinfo="skip", cliponaxis=False)

layout["shapes"] = shapes
layout["annotations"] = annotations
fig.update_layout(**layout)
fig.write_html("out.html", config={"displayModeBar": False},
               post_script="document.body.style.margin='0';document.body.style.overflow='hidden';")
